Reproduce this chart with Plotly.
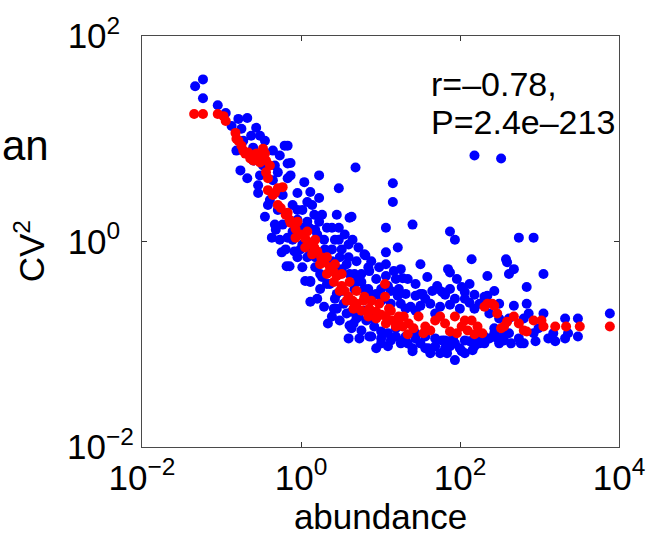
import plotly.graph_objects as go

# ---- data ----
blue_abundance = [
    0.0585, 0.0466, 0.0585, 0.0897, 0.113, 0.211, 0.178, 0.273, 0.236, 0.352,
    0.623, 0.541, 0.679, 0.173, 0.211, 0.289, 0.289, 0.406, 0.352, 0.511,
    0.679, 0.250, 0.154, 0.469, 0.469, 0.430, 0.572, 0.659, 0.679, 1.31,
    1.31, 2.18, 0.679, 0.739, 0.739, 1.69, 4.85, 14.3, 14.3, 2.99,
    1.10, 0.902, 1.31, 1.69, 1.20, 2.82, 4.32, 1.47, 4.08, 2.99,
    11.7, 25.3, 16.5, 11.7, 6.45, 3.97, 31.8, 74.8, 86.3, 140,
    152, 329, 550, 843, 379, 476, 1122, 70.7, 221, 0.718,
    3.97, 8.83, 12.4, 7.22, 11.7, 1.31, 1.74, 2.82, 4.58, 7.22,
    0.828, 91.3, 19.0, 132, 115, 51.6, 59.6, 33.7, 270, 221,
    132, 17.0, 16.5, 19.0, 25.3, 39.9, 59.6, 86.3, 68.7, 105,
    152, 186, 294, 358, 413, 690, 476, 690, 731, 1122,
    2099, 3041, 7674, 438, 634, 891, 1578, 2099, 3041, 358,
    25.3, 311, 582, 391, 74.8, 53.1, 27.6, 12.4, 6.63, 2.59,
    4.08, 5.43, 1.04,
    0.902, 1.20, 1.51, 1.95, 2.45, 3.07, 3.75, 4.71, 5.75, 7.03,
    8.83, 11.1, 13.5, 18.0, 23.9, 31.8, 42.3, 56.2, 74.8, 99.5, 152,
    0.784, 0.984, 1.20, 1.51, 1.84, 2.31, 2.82, 3.44, 4.32, 5.28,
    6.63, 8.34, 10.2, 12.4, 15.6, 20.7, 27.6, 36.6, 48.7, 64.9,
    86.3, 115, 152, 203, 270,
    0.333, 0.443, 0.588, 0.784, 0.902, 0.588, 0.784, 1.04, 0.511, 0.384,
    0.305, 0.250, 0.188, 0.134, 0.163, 0.305, 0.443, 1.38, 1.84, 2.12,
    2.67, 3.25, 3.97, 1.60, 2.00, 2.45, 1.27, 1.51, 1.74, 2.12,
    2.67, 3.25, 3.75, 4.99, 4.71, 5.75, 4.99, 7.03, 8.83, 6.27,
    7.65, 10.2, 13.5, 15.6, 20.7, 27.6, 36.6, 48.7, 64.9, 86.3,
    115, 152, 203, 234, 311, 10.2, 13.5, 18.0, 31.8, 48.7,
    74.8, 99.5, 132, 176, 234, 15.6, 22.0, 56.2, 42.3, 115,
    413, 550, 843, 1291,
    3.55, 4.45, 5.28, 6.27, 7.65, 9.61, 11.7, 14.7, 18.0, 22.0,
    27.6, 38.8, 3.25, 4.08, 5.13, 6.27, 7.87, 10.2, 1.60, 1.95,
    2.45, 3.07, 4.32, 5.75, 7.65, 10.2, 1.04, 1.13, 0.902, 0.541,
    0.641, 0.482, 1.04, 1.27, 1.69, 2.45, 2.99,
    20.7, 31.8, 44.8, 74.8, 105, 176, 311, 413, 634, 972,
    1490, 2286, 27.6, 36.6, 64.9, 81.5, 144, 203, 270,
]
blue_cv2 = [
    37.8, 32.4, 24.8, 21.2, 17.8, 15.9, 12.5, 12.8, 10.7, 9.57,
    8.57, 6.87, 5.75, 4.92, 4.12, 3.53, 2.96, 2.53, 1.74, 4.71,
    4.12, 8.19, 7.67, 5.50, 1.46, 1.09, 0.784, 0.575, 1.09, 0.403,
    0.259, 0.159, 8.57, 5.80, 4.40, 4.40, 5.26, 3.69, 2.42, 3.30,
    3.78, 2.96, 3.03, 2.65, 2.42, 1.82, 1.74, 1.82, 1.70, 1.36,
    1.36, 1.46, 0.875, 0.784, 0.733, 0.935, 0.601, 1.25, 1.04, 0.671,
    6.87, 6.43, 1.09, 1.09, 0.671, 0.538, 0.482, 0.538, 0.461, 0.575,
    0.114, 0.0916, 0.0957, 0.515, 0.461, 0.413, 0.345, 0.222, 0.159, 0.119,
    0.801, 0.431, 0.44, 0.386, 0.323, 0.369, 0.323, 0.309, 0.330, 0.296,
    0.253, 0.345, 0.296, 0.109, 0.0916, 0.0916, 0.109, 0.0701, 0.0819, 0.0857,
    0.0957, 0.109, 0.114, 0.128, 0.482, 0.361, 0.237, 0.248, 0.199, 0.199,
    0.178, 0.178, 0.199, 0.102, 0.102, 0.107, 0.107, 0.114, 0.119, 0.109,
    0.0857, 0.102, 0.102, 0.628, 0.50, 0.345, 0.296, 0.369, 0.277, 0.222,
    0.152, 0.114, 1.36,
    2.03, 1.56, 1.30, 1.04, 0.838, 0.702, 0.601, 0.482, 0.403, 0.345,
    0.309, 0.277, 0.248, 0.248, 0.232, 0.237, 0.248, 0.232, 0.243, 0.222, 0.222,
    1.04, 0.838, 0.702, 0.562, 0.451, 0.386, 0.309, 0.248, 0.207, 0.186,
    0.170, 0.149, 0.133, 0.128, 0.119, 0.119, 0.114, 0.119, 0.114, 0.109,
    0.102, 0.109, 0.114, 0.119, 0.128,
    5.50, 3.95, 2.83, 2.27, 1.63, 1.46, 1.25, 0.935, 2.03, 2.27,
    4.40, 6.14, 9.57, 13.3, 15.6, 10.7, 7.67, 2.27, 1.82, 1.36,
    1.04, 0.838, 0.702, 1.17, 0.838, 0.643, 0.838, 0.702, 0.482, 0.386,
    0.277, 0.330, 0.199, 0.178, 0.345, 0.482, 0.643, 0.562, 0.431, 0.212,
    0.178, 0.345, 0.330, 0.431, 0.309, 0.212, 0.277, 0.199, 0.303, 0.277,
    0.277, 0.303, 0.290, 0.199, 0.248, 0.102, 0.109, 0.102, 0.102, 0.0957,
    0.0957, 0.0916, 0.107, 0.102, 0.114, 0.143, 0.102, 0.0819, 0.0819, 0.0819,
    0.128, 0.114, 0.128, 0.114,
    1.17, 1.04, 0.875, 0.750, 0.643, 0.562, 0.601, 0.515, 0.538, 0.431,
    0.386, 0.451, 0.538, 0.482, 0.413, 0.345, 0.296, 0.265, 0.277, 0.232,
    0.186, 0.170, 0.143, 0.136, 0.119, 0.114, 0.562, 0.413, 0.702, 1.04,
    0.838, 1.30, 2.03, 1.36, 1.56, 1.36, 1.04,
    0.222, 0.309, 0.330, 0.345, 0.361, 0.248, 0.178, 0.178, 0.178, 0.143,
    0.128, 0.128, 0.128, 0.0916, 0.0916, 0.114, 0.0876, 0.102, 0.143,
]

red_abundance = [
    0.0453, 0.0585, 0.0897, 0.106, 0.113, 0.150, 0.154, 0.178, 0.199, 0.230,
    0.273, 0.315, 0.352, 0.363, 0.384, 0.384, 0.469, 0.588, 0.556, 0.679,
    0.739, 0.853, 0.984, 1.13, 1.31, 1.47, 1.60, 1.79, 1.95, 2.31,
    2.59, 2.82, 3.25, 3.55, 3.97, 4.45, 4.99, 6.10, 7.22, 8.83,
    10.2, 11.4, 11.4, 11.7, 14.3, 17.0, 17.0, 19.0, 22.6, 26.0,
    30.1, 36.6, 42.3, 48.7, 64.9, 74.8, 86.3, 105, 125, 140,
    166, 191, 203, 221, 255, 270, 294, 329, 358, 391,
    476, 550, 634, 690, 843, 1059, 1122, 1578, 2160, 3214, 7674,
    19.6, 34.7, 56.2, 91.3, 115, 152, 13.5, 22.0,
    0.902, 1.20, 1.51, 2.12, 2.67, 3.25, 4.08, 4.99, 6.27, 7.65, 9.61, 12.8,
    0.853, 1.13, 1.38, 1.74, 2.12, 2.59, 3.07, 3.75, 4.58, 5.75, 7.03, 8.83, 11.7, 15.6,
    0.163, 0.188, 0.217, 0.250, 0.305, 0.363, 0.406, 0.333, 0.443, 0.511, 0.641, 0.718, 0.511,
]
red_cv2 = [
    17.4, 17.4, 17.4, 16.6, 14.9, 11.4, 10.0, 8.57, 7.17, 6.43,
    7.17, 6.43, 7.17, 4.71, 4.12, 3.16, 2.96, 3.38, 2.12, 1.90,
    1.52, 1.33, 1.17, 1.07, 0.977, 0.875, 0.801, 0.702, 0.628, 0.562,
    0.504, 0.461, 0.369, 0.330, 0.290, 0.265, 0.248, 0.265, 0.222, 0.207,
    0.194, 0.386, 0.290, 0.186, 0.170, 0.186, 0.159, 0.149, 0.159, 0.143,
    0.186, 0.149, 0.136, 0.170, 0.159, 0.133, 0.186, 0.149, 0.136, 0.170,
    0.149, 0.128, 0.232, 0.248, 0.248, 0.237, 0.199, 0.143, 0.149, 0.166,
    0.186, 0.159, 0.136, 0.133, 0.170, 0.170, 0.149, 0.149, 0.149, 0.149, 0.149,
    0.186, 0.128, 0.186, 0.128, 0.170, 0.125, 0.212, 0.125,
    1.56, 1.25, 1.04, 0.702, 0.601, 0.482, 0.403, 0.330, 0.290, 0.265, 0.248, 0.222,
    1.09, 0.875, 0.750, 0.601, 0.482, 0.403, 0.330, 0.265, 0.222, 0.212, 0.186, 0.178, 0.159, 0.149,
    9.57, 7.67, 7.33, 6.14, 5.87, 6.14, 5.50, 8.01, 2.83, 3.30, 1.82, 1.63, 2.27,
]

decade_vals = [0.01, 1, 100, 10000]
x_tick_text = ["10<sup>−2</sup>", "10<sup>0</sup>", "10<sup>2</sup>", "10<sup>4</sup>"]
y_tick_vals = [0.01, 1, 100]
y_tick_text = ["10<sup>−2</sup>", "10<sup>0&#160;&#160;</sup>", "10<sup>2&#160;&#160;</sup>"]
stats_line1 = "r=–0.78,"
stats_line2 = "P=2.4e–213"

FONT = "Liberation Sans, Arial, Helvetica, sans-serif"
FS = 35

fig = go.Figure()
fig.add_trace(go.Scatter(
    x=blue_abundance, y=blue_cv2, mode="markers",
    marker=dict(color="#0000ff", size=10, line=dict(width=0)),
    showlegend=False, hoverinfo="skip"))
fig.add_trace(go.Scatter(
    x=red_abundance, y=red_cv2, mode="markers",
    marker=dict(color="#ff0000", size=10, line=dict(width=0)),
    showlegend=False, hoverinfo="skip"))

axis_common = dict(
    type="log", showgrid=False, zeroline=False,
    showline=True, linecolor="#4a4a4a", linewidth=1.3, mirror="ticks",
    ticks="inside", ticklen=5, tickwidth=1, tickcolor="#333333",
    tickmode="array", tickfont=dict(family=FONT, size=FS, color="black"),
)

fig.update_layout(
    width=657, height=539,
    margin=dict(l=142, r=30, t=34, b=89),
    paper_bgcolor="white", plot_bgcolor="white",
    font=dict(family=FONT, color="black"),
    xaxis=dict(axis_common, range=[-2, 4], tickvals=decade_vals, ticktext=x_tick_text,
               title=dict(text="abundance", font=dict(family=FONT, size=FS), standoff=5)),
    yaxis=dict(axis_common, range=[-2, 2], tickvals=y_tick_vals, ticktext=y_tick_text),
    annotations=[
        dict(text=stats_line1, xref="paper", yref="paper", x=0.602, y=0.884,
             xanchor="left", yanchor="middle", showarrow=False,
             font=dict(family=FONT, size=34, color="black")),
        dict(text=stats_line2, xref="paper", yref="paper", x=0.602, y=0.791,
             xanchor="left", yanchor="middle", showarrow=False,
             font=dict(family=FONT, size=34, color="black")),
        dict(text="CV<sup>2</sup>", xref="paper", yref="paper", x=-0.235, y=0.476,
             xanchor="center", yanchor="middle", textangle=-90, showarrow=False,
             font=dict(family=FONT, size=FS, color="black")),
        dict(text="an", xref="paper", yref="paper", x=-0.297, y=0.733,
             xanchor="left", yanchor="middle", showarrow=False,
             font=dict(family=FONT, size=42, color="black")),
    ],
)

fig.write_html("out.html")
